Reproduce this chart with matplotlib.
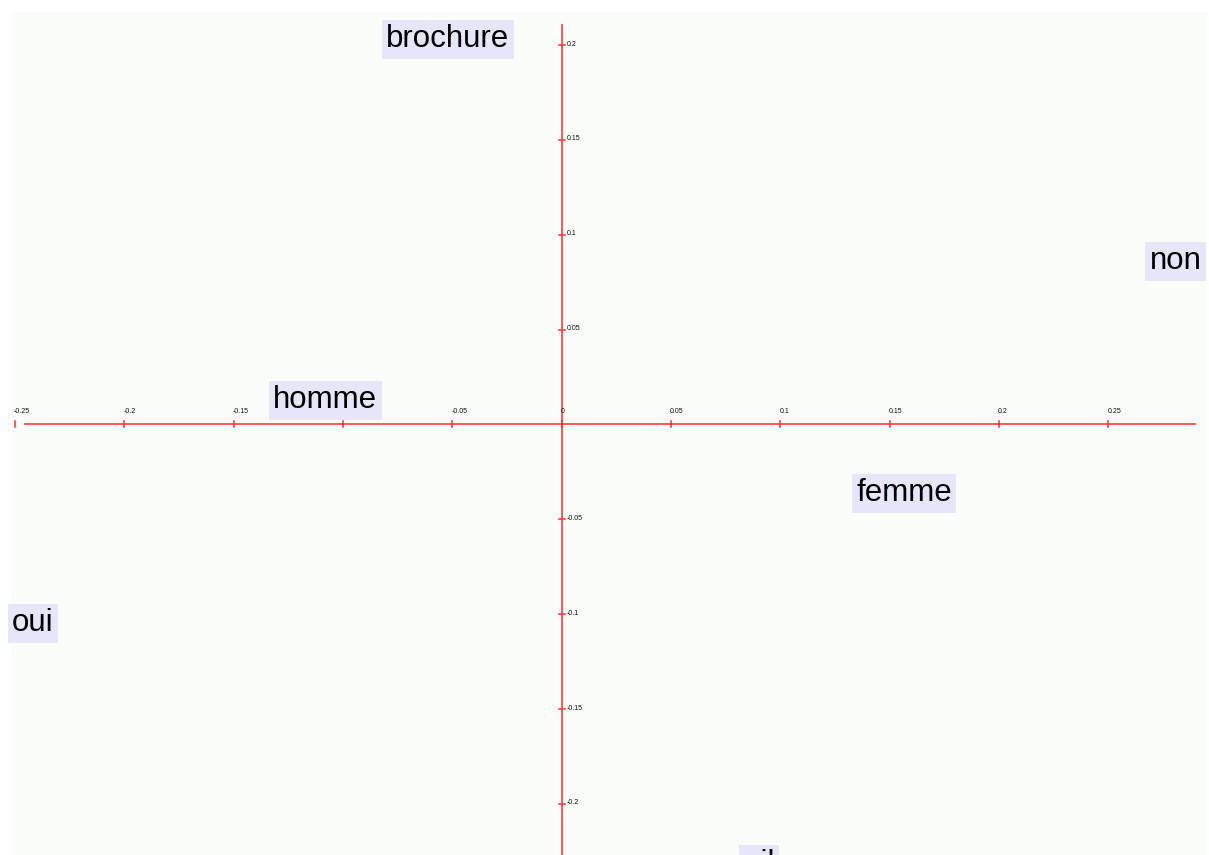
import numpy as np
import matplotlib
matplotlib.use("Agg")
import matplotlib.pyplot as plt

# Data: category labels and their coordinates
labels = ["brochure", "non", "homme", "femme", "oui", "ail"]
x_vals = [-0.0522, 0.2807, -0.1082, 0.1565, -0.2418, 0.0902]
y_vals = [0.2030, 0.0860, 0.0128, -0.0363, -0.1048, -0.2318]

x_ticks = [-0.25, -0.2, -0.15, -0.1, -0.05, 0, 0.05, 0.1, 0.15, 0.2, 0.25]
x_tick_labels = ["-0.25", "-0.2", "-0.15", "-0.1", "-0.05", "0", "0.05", "0.1", "0.15", "0.2", "0.25"]
y_ticks = [0.2, 0.15, 0.1, 0.05, -0.05, -0.1, -0.15, -0.2]
y_tick_labels = ["0.2", "0.15", "0.1", "0.05", "-0.05", "-0.1", "-0.15", "-0.2"]

W, H, DPI = 1209, 855, 100
fig = plt.figure(figsize=(W / DPI, H / DPI), dpi=DPI)
fig.patch.set_facecolor("white")

# pixel -> data mapping
x0px, xscale = 561.7, 2186.8
y0px, yscale = 424.5, 1897.0
xlim = ((0 - x0px) / xscale, (W - x0px) / xscale)
ylim = ((y0px - H) / yscale, (y0px - 0) / yscale)

ax = fig.add_axes([0, 0, 1, 1])
ax.set_xlim(*xlim)
ax.set_ylim(*ylim)
ax.axis("off")

# panel background
ax.add_patch(plt.Rectangle(((11 - x0px) / xscale, (y0px - H) / yscale),
                           (1207 - 11) / xscale, (H - 12) / yscale,
                           facecolor="#fafcf9", edgecolor="none", zorder=0))

px_x = 1.0 / xscale
px_y = 1.0 / yscale
red = "#ff3030"

# axis lines
ax.plot([(23.7 - x0px) / xscale, (1196.2 - x0px) / xscale], [0, 0], color=red, lw=1.4, alpha=0.8, zorder=2, solid_capstyle="butt")
ax.plot([0, 0], [(y0px - 24) / yscale, ylim[0]], color=red, lw=1.4, alpha=0.8, zorder=2, solid_capstyle="butt")

# x ticks
for t, lab in zip(x_ticks, x_tick_labels):
    ax.plot([t, t], [-3 * px_y, 3 * px_y], color=red, lw=1.2, alpha=0.9, zorder=2)
    ax.text(t - 1 * px_x, 13.5 * px_y, lab, fontsize=5, ha="left", va="center",
            family="Liberation Sans", color="#111111", zorder=3)

# y ticks
for t, lab in zip(y_ticks, y_tick_labels):
    ax.plot([-3 * px_x, 3 * px_x], [t, t], color=red, lw=1.2, alpha=0.9, zorder=2)
    ax.text(5 * px_x, t + 1 * px_y, lab, fontsize=5, ha="left", va="center",
            family="Liberation Sans", color="#111111", zorder=3)

# category labels
for lab, xv, yv in zip(labels, x_vals, y_vals):
    ax.text(xv, yv, lab, fontsize=22.5, ha="center", va="center",
            family="Liberation Sans", color="black", zorder=4,
            bbox=dict(boxstyle="square,pad=0.14", facecolor="#e6e6fa", edgecolor="none"))

fig.savefig("out.png", dpi=DPI, facecolor="white")
